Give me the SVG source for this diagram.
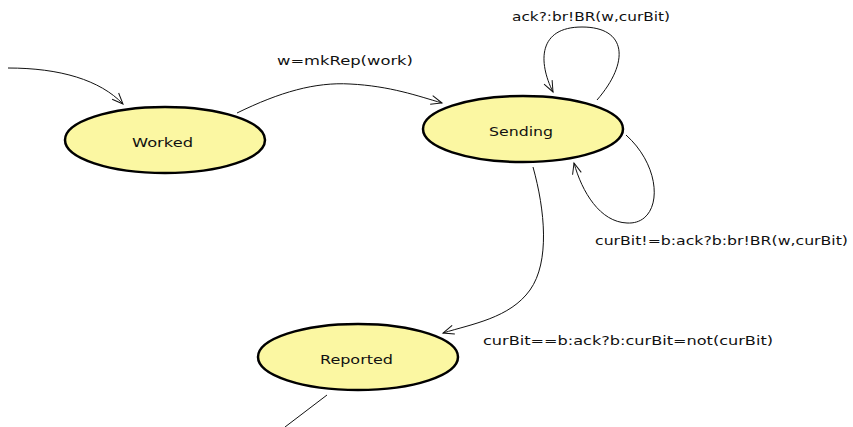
<svg xmlns="http://www.w3.org/2000/svg" width="853" height="427" viewBox="0 0 853 427">
  <style>
    .state ellipse { fill: #fbf7a2; stroke: #000; stroke-width: 2.5; }
    .state text { font-family: "DejaVu Sans", Verdana, sans-serif; font-size: 13px; fill: #111; }
    .edge { fill: none; stroke: #111; stroke-width: 1; marker-end: url(#open); }
    .plain { fill: none; stroke: #111; stroke-width: 1; }
    .label { font-family: "DejaVu Sans", Verdana, sans-serif; font-size: 12px; fill: #111; }
  </style>
  <defs>
    <marker id="open" viewBox="-12 -6 14 12" refX="0" refY="0" markerWidth="14" markerHeight="12" markerUnits="userSpaceOnUse" orient="auto">
      <path d="M-11,-4.5 L0,0 L-11,4.5" fill="none" stroke="#111" stroke-width="1"/>
    </marker>
  </defs>

  <rect width="853" height="427" fill="#fff"/>

  <g id="connectors">
    <!-- initial transition into Worked -->
    <path class="edge" d="M8,68 C60,68 100,80 123,104"/>
    <!-- Worked to Sending -->
    <path class="edge" d="M237,113 C280,92 315,82 350,84 C390,86 418,96 442,103"/>
    <!-- Sending self loop (top) -->
    <path class="edge" d="M597,100 C630,62 627,27 582,27 C538,27 538,62 553,92"/>
    <!-- Sending self loop (right) -->
    <path class="edge" d="M626,135 C665,170 662,225 627,223 C600,222 582,192 574,163"/>
    <!-- Sending to Reported -->
    <path class="edge" d="M533,167 C545,210 550,262 530,290 C510,318 472,324 443,333"/>
    <!-- outgoing from Reported -->
    <path class="plain" d="M327,395 L285,427"/>

    <text class="label" x="277" y="65" textLength="136" lengthAdjust="spacingAndGlyphs">w=mkRep(work)</text>
    <text class="label" x="512" y="21" textLength="158" lengthAdjust="spacingAndGlyphs">ack?:br!BR(w,curBit)</text>
    <text class="label" x="595" y="245" textLength="253" lengthAdjust="spacingAndGlyphs">curBit!=b:ack?b:br!BR(w,curBit)</text>
    <text class="label" x="483" y="345" textLength="290" lengthAdjust="spacingAndGlyphs">curBit==b:ack?b:curBit=not(curBit)</text>
  </g>

  <g id="worked" class="state">
    <ellipse cx="165" cy="140" rx="100" ry="33"/>
    <text x="132" y="147" textLength="61" lengthAdjust="spacingAndGlyphs">Worked</text>
  </g>
  <g id="sending" class="state">
    <ellipse cx="523" cy="129" rx="100" ry="33"/>
    <text x="489" y="136" textLength="64" lengthAdjust="spacingAndGlyphs">Sending</text>
  </g>
  <g id="reported" class="state">
    <ellipse cx="358" cy="357" rx="100" ry="33"/>
    <text x="320" y="364" textLength="73" lengthAdjust="spacingAndGlyphs">Reported</text>
  </g>
</svg>
